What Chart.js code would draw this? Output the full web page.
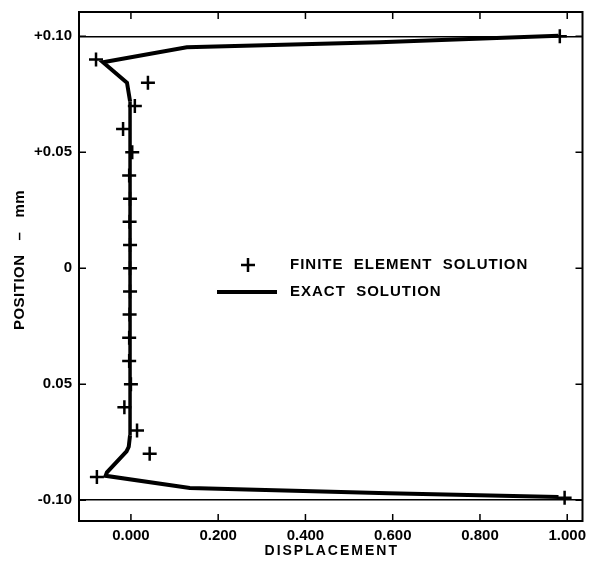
<!DOCTYPE html>
<html>
<head>
<meta charset="utf-8">
<script src="https://cdn.jsdelivr.net/npm/chart.js@4/dist/chart.umd.min.js"></script>
<style>
  body { margin: 0; background: #fff; }
  canvas { display: block; }
</style>
</head>
<body>
<canvas id="chart" width="592" height="562"></canvas>
<script>
// === Données ===
// solution exacte (déplacement, position en mm)
const exactX = [0.980, 0.570, 0.128, -0.064, -0.009, -0.002, -0.002, -0.002, -0.005, -0.010, -0.055, -0.058, 0.135, 0.590, 0.980];
const exactY = [0.1003, 0.0975, 0.0953, 0.0888, 0.080, 0.072, 0.0, -0.072, -0.077, -0.079, -0.088, -0.0895, -0.0948, -0.097, -0.0987];

// solution éléments finis (croix)
const feX = [0.983, -0.080, 0.039, 0.009, -0.018, 0.003, -0.004, -0.002, -0.003, -0.002, -0.002, -0.002, -0.003, -0.004, -0.004, 0.000, -0.015, 0.014, 0.043, -0.078, 0.994];
const feY = [0.100, 0.090, 0.080, 0.070, 0.060, 0.050, 0.040, 0.030, 0.020, 0.010, 0.000, -0.010, -0.020, -0.030, -0.040, -0.050, -0.060, -0.070, -0.080, -0.090, -0.099];

const xTickValues = [0, 0.2, 0.4, 0.6, 0.8, 1.0];
const xTickLabels = ["0.000", "0.200", "0.400", "0.600", "0.800", "1.000"];
const yTickValues = [0.10, 0.05, 0, -0.05, -0.10];
const yTickLabels = ["+0.10", "+0.05", "0", "0.05", "-0.10"];

const seriesNames = ["FINITE  ELEMENT  SOLUTION", "EXACT  SOLUTION"];
const xTitle = "DISPLACEMENT";
const yTitle = "POSITION   –   mm";

const toPoints = (xs, ys) => xs.map((x, i) => ({ x: x, y: ys[i] }));

const FONT = '"Liberation Sans", Arial, sans-serif';

// === Cadre, graduations internes, titres et légende ===
const framePlugin = {
    id: 'frame',
    afterDraw(chart) {
        const ctx = chart.ctx;
        const a = chart.chartArea;
        const xs = chart.scales.x;
        const ys = chart.scales.y;
        ctx.save();
        ctx.strokeStyle = '#000';
        ctx.lineWidth = 2;
        ctx.strokeRect(a.left, a.top, a.right - a.left, a.bottom - a.top);

        ctx.lineWidth = 1.5;
        ctx.beginPath();
        xTickValues.forEach(v => {
            const px = xs.getPixelForValue(v);
            ctx.moveTo(px, a.bottom); ctx.lineTo(px, a.bottom - 7);
            ctx.moveTo(px, a.top); ctx.lineTo(px, a.top + 7);
        });
        yTickValues.forEach(v => {
            const py = ys.getPixelForValue(v);
            ctx.moveTo(a.left, py); ctx.lineTo(a.left + 7, py);
            ctx.moveTo(a.right, py); ctx.lineTo(a.right - 7, py);
        });
        ctx.stroke();

        ctx.fillStyle = '#000';
        ctx.letterSpacing = '2px';
        ctx.font = 'bold 14px ' + FONT;
        ctx.textAlign = 'center';
        ctx.textBaseline = 'middle';
        ctx.fillText(xTitle, (a.left + a.right) / 2 + 1, 551);

        ctx.save();
        ctx.letterSpacing = '0.5px';
        ctx.font = 'bold 15px ' + FONT;
        ctx.translate(20, 260);
        ctx.rotate(-Math.PI / 2);
        ctx.fillText(yTitle, 0, 0);
        ctx.restore();

        // légende
        ctx.letterSpacing = '1px';
        ctx.font = 'bold 15px ' + FONT;
        ctx.textAlign = 'left';
        const lx = 290, ly1 = 265, ly2 = 292;
        ctx.fillText(seriesNames[0], lx, ly1);
        ctx.fillText(seriesNames[1], lx, ly2);
        ctx.lineWidth = 2.5;
        ctx.beginPath();
        ctx.moveTo(248 - 7, ly1); ctx.lineTo(248 + 7, ly1);
        ctx.moveTo(248, ly1 - 7); ctx.lineTo(248, ly1 + 7);
        ctx.stroke();
        ctx.lineWidth = 4;
        ctx.beginPath();
        ctx.moveTo(217, ly2); ctx.lineTo(277, ly2);
        ctx.stroke();
        ctx.restore();
    }
};

const whiteBg = {
    id: 'whiteBg',
    beforeDraw(chart) {
        const ctx = chart.ctx;
        ctx.save();
        ctx.fillStyle = '#fff';
        ctx.fillRect(0, 0, chart.width, chart.height);
        ctx.restore();
    }
};

new Chart(document.getElementById('chart'), {
    type: 'scatter',
    data: {
        datasets: [{
            label: seriesNames[1],
            data: toPoints(exactX, exactY),
            showLine: true,
            borderColor: '#000',
            borderWidth: 4,
            pointRadius: 0,
            segment: {
                borderDash: c => (Math.abs(c.p0.parsed.y) < 0.073 && Math.abs(c.p1.parsed.y) < 0.073) ? [8, 4] : undefined,
                borderWidth: c => (Math.abs(c.p0.parsed.y) < 0.073 && Math.abs(c.p1.parsed.y) < 0.073) ? 3.5 : 4
            }
        }, {
            label: seriesNames[0],
            data: toPoints(feX, feY),
            showLine: false,
            pointStyle: 'cross',
            pointRadius: 7,
            borderColor: '#000',
            borderWidth: 2.5
        }]
    },
    options: {
        responsive: false,
        animation: false,
        layout: { padding: { top: 12, right: 7, left: 1, bottom: 0 } },
        plugins: {
            legend: { display: false },
            tooltip: { enabled: false }
        },
        scales: {
            x: {
                type: 'linear',
                min: -0.119,
                max: 1.035,
                afterBuildTicks: s => { s.ticks = xTickValues.map(v => ({ value: v })); },
                afterFit: s => { s.height = 41; s.paddingLeft = 0; s.paddingRight = 0; },
                grid: { display: false, drawTicks: false },
                border: { display: false },
                ticks: {
                    padding: 6,
                    color: '#000',
                    font: { family: FONT, size: 15, weight: 'bold' },
                    callback: (v, i) => xTickLabels[i]
                }
            },
            y: {
                type: 'linear',
                min: -0.109,
                max: 0.1105,
                afterBuildTicks: s => { s.ticks = yTickValues.map(v => ({ value: v })); },
                afterFit: s => { s.width = 78; s.paddingTop = 0; s.paddingBottom = 0; },
                grid: {
                    drawTicks: false,
                    lineWidth: 1.5,
                    color: c => (c.tick && Math.abs(Math.abs(c.tick.value) - 0.1) < 1e-6) ? '#000' : 'rgba(0,0,0,0)'
                },
                border: { display: false },
                ticks: {
                    padding: 7,
                    color: '#000',
                    font: { family: FONT, size: 15, weight: 'bold' },
                    callback: (v, i) => yTickLabels[i]
                }
            }
        }
    },
    plugins: [whiteBg, framePlugin]
});
</script>
</body>
</html>
